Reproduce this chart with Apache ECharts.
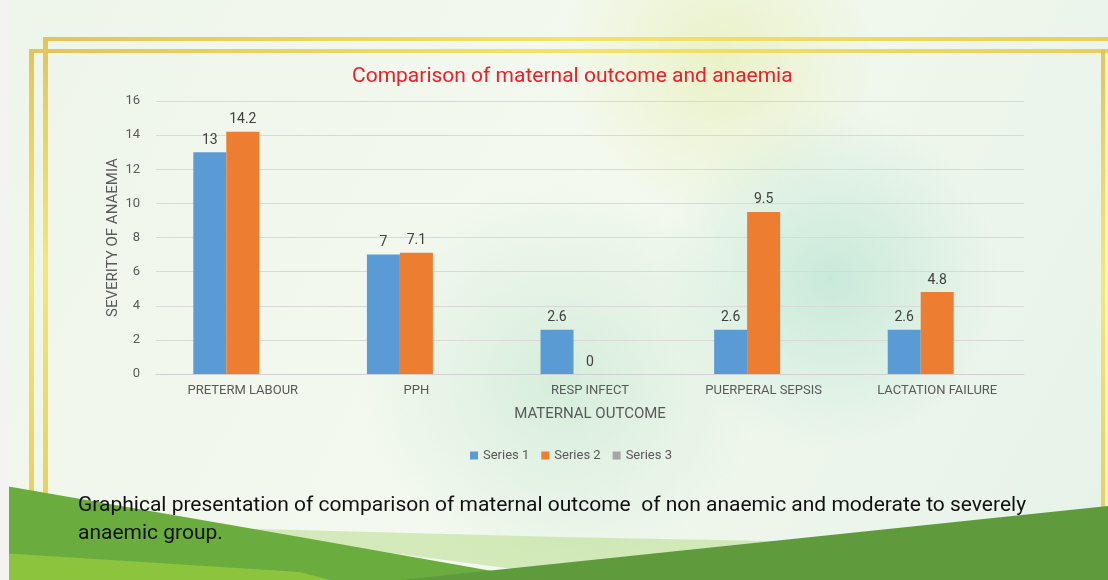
<!DOCTYPE html>
<html><head><meta charset="utf-8">
<script src="https://cdn.jsdelivr.net/npm/echarts@6/dist/echarts.min.js"></script>
<style>html,body{margin:0;padding:0;}#c{width:1108px;height:580px;}</style>
</head><body><div id="c"></div>
<script>
const categories = ['PRETERM LABOUR', 'PPH', 'RESP INFECT', 'PUERPERAL SEPSIS', 'LACTATION FAILURE'];
const series1 = [13, 7, 2.6, 2.6, 2.6];
const series2 = [14.2, 7.1, 0, 9.5, 4.8];
const series3 = [null, null, null, null, null];
const seriesNames = ['Series 1', 'Series 2', 'Series 3'];
const titleText = 'Comparison of maternal outcome and anaemia';
const captionText = 'Graphical presentation of comparison of maternal outcome  of non anaemic and moderate to severely\nanaemic group.';

const chart = echarts.init(document.getElementById('c'));
const gold = {type:'linear',x:0,y:0,x2:1,y2:0,colorStops:[{offset:0,color:'#e3c45a'},{offset:0.5,color:'#f3e36a'},{offset:1,color:'#e8cf5e'}]};
const goldV = {type:'linear',x:0,y:0,x2:0,y2:1,colorStops:[{offset:0,color:'#e3c45a'},{offset:0.5,color:'#f5e870'},{offset:1,color:'#e8d060'}]};
const bar = (name, data, color) => ({
  name, type:'bar', data, barGap:'0%', barCategoryGap:'43%',
  itemStyle:{color},
  label:{show:true, position:'top', color:'#404040', fontSize:14, fontFamily:'Roboto', distance:5}
});
chart.setOption({
  backgroundColor: {type:'linear',x:0,y:0,x2:1,y2:1,colorStops:[{offset:0,color:'#eef5ea'},{offset:0.5,color:'#f4f9ef'},{offset:1,color:'#e6f2e8'}]},
  animation:false,
  graphic:[
    {type:'circle', shape:{cx:720,cy:60,r:160}, style:{fill:{type:'radial',x:0.5,y:0.5,r:0.5,colorStops:[{offset:0,color:'rgba(232,240,190,0.8)'},{offset:1,color:'rgba(232,240,190,0)'}]}}, z:-5, silent:true},
    {type:'circle', shape:{cx:830,cy:280,r:170}, style:{fill:{type:'radial',x:0.5,y:0.5,r:0.5,colorStops:[{offset:0,color:'rgba(175,225,205,0.6)'},{offset:1,color:'rgba(175,225,205,0)'}]}}, z:-5, silent:true},
    {type:'circle', shape:{cx:560,cy:380,r:200}, style:{fill:{type:'radial',x:0.5,y:0.5,r:0.5,colorStops:[{offset:0,color:'rgba(190,228,205,0.55)'},{offset:1,color:'rgba(190,228,205,0)'}]}}, z:-5, silent:true},
    {type:'rect', shape:{x:0,y:0,width:9,height:580}, style:{fill:'#f3f4f2'}, z:3, silent:true},
    {type:'rect', shape:{x:43,y:37,width:1065,height:4}, style:{fill:gold}, z:-1, silent:true},
    {type:'rect', shape:{x:29,y:49,width:1079,height:4}, style:{fill:gold}, z:-1, silent:true},
    {type:'rect', shape:{x:43,y:37,width:5,height:460}, style:{fill:goldV}, z:-1, silent:true},
    {type:'rect', shape:{x:29,y:49,width:5,height:448}, style:{fill:goldV}, z:-1, silent:true},
    {type:'rect', shape:{x:1101,y:49,width:4,height:460}, style:{fill:goldV}, z:-1, silent:true},
    {type:'polygon', shape:{points:[[220,528],[560,537],[820,542],[560,575],[330,545]]}, style:{fill:'rgba(190,224,150,0.6)'}, z:1, silent:true},
    {type:'polygon', shape:{points:[[0,485],[300,537],[560,583],[0,583]]}, style:{fill:'#6aad3e'}, z:1, silent:true},
    {type:'polygon', shape:{points:[[0,553],[300,572],[330,580],[0,580]]}, style:{fill:'#8cc43e'}, z:1, silent:true},
    {type:'polygon', shape:{points:[[400,580],[1108,506],[1108,580]]}, style:{fill:'#5f9b3c'}, z:1, silent:true},
    {type:'text', left:78, top:492, z:2, silent:true, style:{text:captionText, fill:'#111', fontSize:21, fontFamily:'Roboto', lineHeight:28}}
  ],
  title:{text:titleText, left:347, top:61, textStyle:{color:'#e8202a', fontSize:21, fontWeight:'normal', fontFamily:'Roboto'}},
  legend:{data:seriesNames, top:444, left:465, itemWidth:8, itemHeight:8, itemGap:12, icon:'rect',
    textStyle:{color:'#595959', fontSize:13, fontFamily:'Roboto'}},
  grid:{left:156, right:84, top:101, bottom:206},
  xAxis:{type:'category', data:categories, name:'MATERNAL OUTCOME', nameLocation:'middle', nameGap:33,
    nameTextStyle:{color:'#595959', fontSize:15, fontFamily:'Roboto'},
    axisTick:{show:false}, axisLine:{lineStyle:{color:'#d0d0d0'}},
    axisLabel:{color:'#595959', fontSize:13, fontFamily:'Roboto', margin:10}},
  yAxis:{type:'value', min:0, max:16, interval:2, name:'SEVERITY OF ANAEMIA', nameLocation:'middle', nameGap:35, nameMoveOverlap:false,
    nameTextStyle:{color:'#595959', fontSize:15, fontFamily:'Roboto'},
    axisLine:{show:false}, axisTick:{show:false},
    axisLabel:{color:'#595959', fontSize:13, fontFamily:'Roboto', margin:16},
    splitLine:{lineStyle:{color:'#d9d9d9'}}},
  series:[bar(seriesNames[0], series1, '#5b9bd5'), bar(seriesNames[1], series2, '#ed7d31'), bar(seriesNames[2], series3, '#a5a5a5')]
});
</script></body></html>
